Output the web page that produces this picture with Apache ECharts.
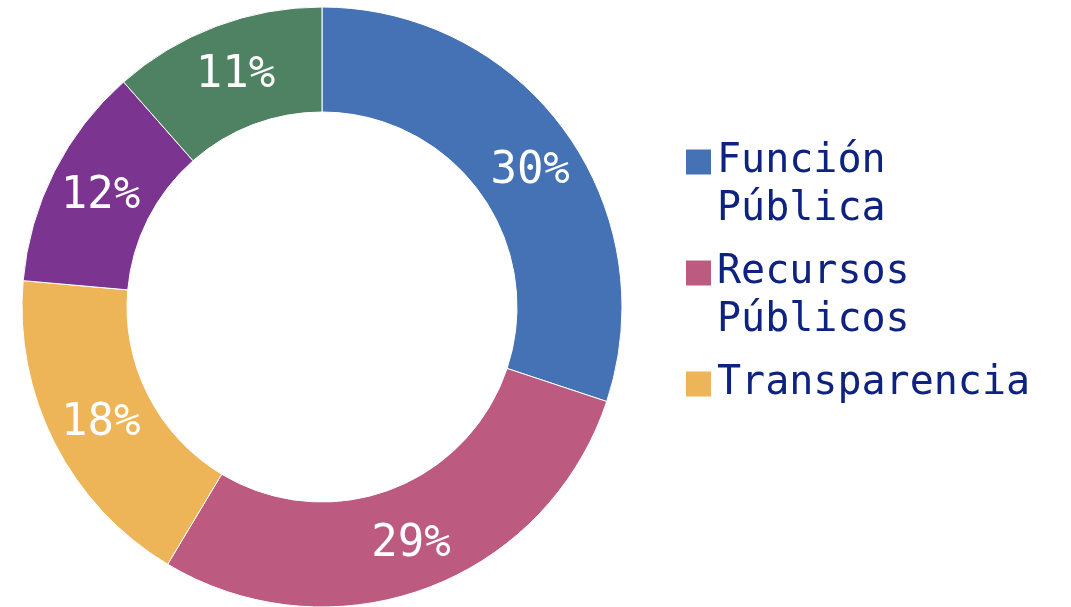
<!DOCTYPE html>
<html>
<head>
<meta charset="utf-8">
<script src="https://cdn.jsdelivr.net/npm/echarts@6/dist/echarts.min.js"></script>
<style>
  html, body { margin: 0; padding: 0; background: #fff; }
  #dona { width: 1071px; height: 607px; }
</style>
</head>
<body>
<div id="dona"></div>
<script>
var categorias = ['Función Pública', 'Recursos Públicos', 'Transparencia', 'Categoría 4', 'Categoría 5'];
var valores = [30.1, 28.5, 17.8, 12.1, 11.5];
var etiquetas = ['30%', '29%', '18%', '12%', '11%'];
var colores = ['#4472B4', '#BC5A80', '#EDB458', '#7B3590', '#4E8263'];
var leyenda = ['Función Pública', 'Recursos Públicos', 'Transparencia'];

var chart = echarts.init(document.getElementById('dona'));

var datos = categorias.map(function (n, i) {
    var d = { name: n, value: valores[i], itemStyle: { color: colores[i] } };
    if (i === 0) {
        d.label = { offset: [5, 11] };   // la etiqueta del 30% va algo más abajo
    }
    return d;
});

chart.setOption({
    animation: false,
    legend: {
        orient: 'vertical',
        left: 679,
        top: 75,
        itemWidth: 27,
        itemHeight: 27,
        itemGap: -53,
        icon: 'rect',
        data: leyenda,
        // linea vacia arriba para que el cuadro quede a la altura de la primera linea
        formatter: function (name) {
            if (name.indexOf(' ') > 0) {
                return '\n' + name.replace(' ', '\n');
            }
            return '\n' + name + '\n';
        },
        textStyle: {
            fontFamily: 'DejaVu Sans Mono',
            fontSize: 40,
            lineHeight: 48,
            padding: [0, 0, 20, 0],
            color: '#0E2280'
        }
    },
    series: [
        {
            name: 'Temas',
            type: 'pie',
            center: [322, 307],
            radius: [195, 300],
            startAngle: 90,
            clockwise: true,
            avoidLabelOverlap: false,
            itemStyle: {
                borderColor: '#ffffff',
                borderWidth: 1
            },
            label: {
                show: true,
                position: 'inside',
                offset: [2, 3],
                formatter: function (p) {
                    return etiquetas[p.dataIndex];
                },
                color: '#ffffff',
                fontFamily: 'DejaVu Sans Mono',
                fontSize: 44
            },
            labelLine: { show: false },
            data: datos
        }
    ]
});
</script>
</body>
</html>
